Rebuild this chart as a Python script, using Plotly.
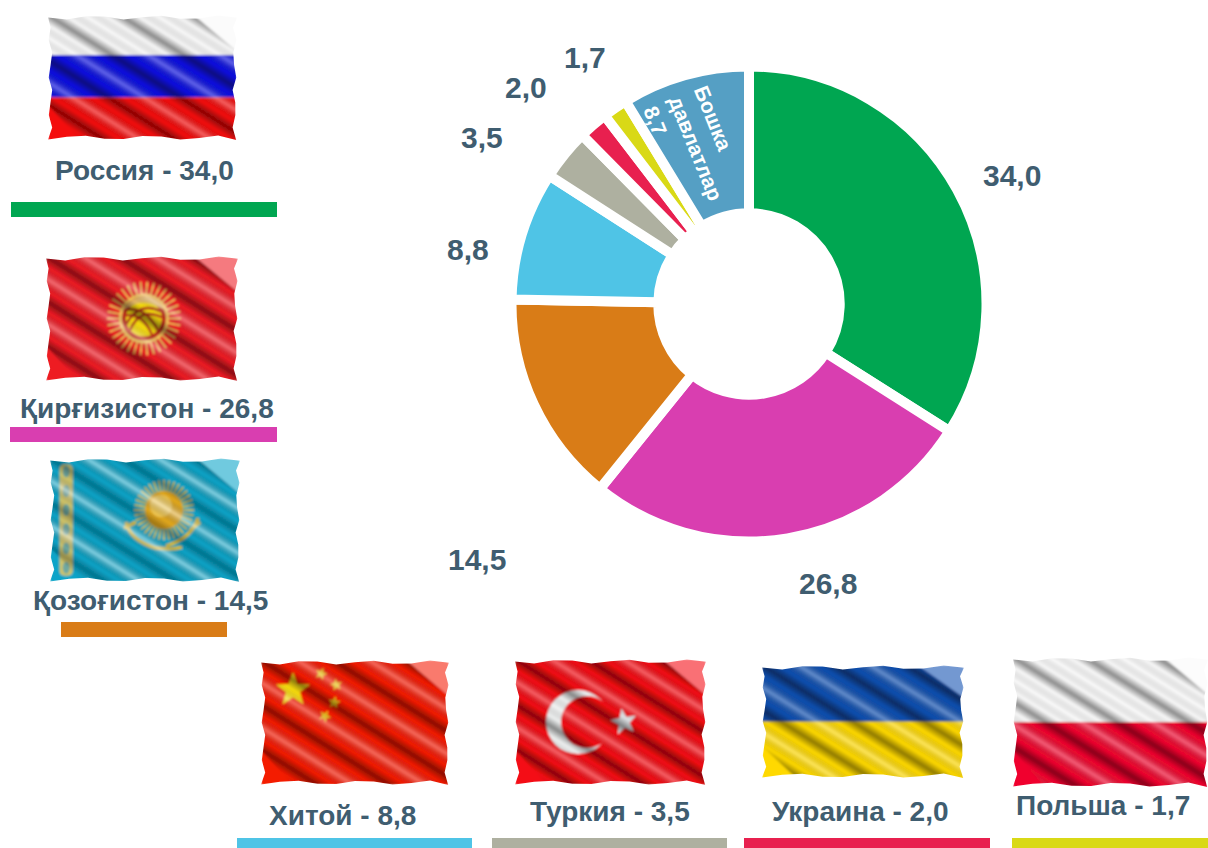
import base64, math
import plotly.graph_objects as go

W, H = 1208, 848

# ---- data ----
countries = ["Россия", "Қирғизистон", "Қозоғистон", "Хитой", "Туркия", "Украина", "Польша", "Бошка давлатлар"]
shares = [34.0, 26.8, 14.5, 8.8, 3.5, 2.0, 1.7, 8.7]
colors = ["#00a651", "#d93eb0", "#d97c17", "#4fc4e6", "#aeb0a0", "#e8204f", "#d9d916", "#559fc4"]

INK = "#3f5d70"
FONT = "Liberation Sans"


def fmt(v):
    return f"{v:.1f}".replace(".", ",")


# ---- flag pictures (inline SVG) ----
def star(cx, cy, r, rot=-90, inner=0.42):
    pts = []
    for i in range(10):
        rr = r if i % 2 == 0 else r * inner
        a = math.radians(rot + 36 * i)
        pts.append(f"{cx + rr * math.cos(a):.1f},{cy + rr * math.sin(a):.1f}")
    return " ".join(pts)


def wavy(w, h):
    n = 10
    p = []
    for i in range(n + 1):
        p.append((w * i / n, 2.5 + 2 * math.sin(i * 1.9)))
    for i in range(1, n + 1):
        p.append((w - 2.5 - 2 * math.sin(i * 2.3), h * i / n))
    for i in range(1, n + 1):
        p.append((w - w * i / n, h - 2.5 - 2 * math.sin(i * 1.7)))
    for i in range(1, n):
        p.append((2.5 + 2 * math.sin(i * 2.1), h - h * i / n))
    return " ".join(f"{x:.1f},{y:.1f}" for x, y in p)


def rays(cx, cy, r0, r1, n, col, width=1.8):
    out = ""
    for i in range(n):
        a = 2 * math.pi * i / n
        out += (f'<line x1="{cx + r0 * math.cos(a):.1f}" y1="{cy + r0 * math.sin(a):.1f}" '
                f'x2="{cx + r1 * math.cos(a):.1f}" y2="{cy + r1 * math.sin(a):.1f}" '
                f'stroke="{col}" stroke-width="{width}"/>')
    return out


def flag(kind, w, h):
    base, top = "", ""
    dark, light = 0.44, 0.36
    if kind == "ru":
        base = (f'<rect width="{w}" height="{h}" fill="#f8f8f8"/><rect y="{h * 0.32}" width="{w}" height="{h * 0.34}" fill="#0c10e0"/>'
                f'<rect y="{h * 0.66}" width="{w}" height="{h}" fill="#f40a0a"/>')
    elif kind == "pl":
        base = f'<rect width="{w}" height="{h}" fill="#fafafa"/><rect y="{h * 0.5}" width="{w}" height="{h}" fill="#f0062e"/>'
    elif kind == "ua":
        base = f'<rect width="{w}" height="{h}" fill="#0f4fb0"/><rect y="{h * 0.5}" width="{w}" height="{h}" fill="#ffd900"/>'
    elif kind == "kg":
        base = f'<rect width="{w}" height="{h}" fill="#ee1a24"/>'
        cx, cy = w * 0.51, h * 0.5
        top = (rays(cx, cy, 20, 37, 34, "#f6c65a") +
               f'<circle cx="{cx}" cy="{cy}" r="25" fill="#f6c65a"/>'
               f'<circle cx="{cx}" cy="{cy}" r="22" fill="#c0281c"/>'
               f'<circle cx="{cx}" cy="{cy}" r="18" fill="#f7dc10"/>'
               f'<path d="M{cx - 18} {cy + 6} Q{cx - 4} {cy - 18} {cx + 17} {cy - 7} M{cx - 14} {cy + 12} Q{cx - 4} {cy - 12} {cx + 18} {cy - 1} '
               f'M{cx + 14} {cy + 12} Q{cx + 2} {cy - 12} {cx - 17} {cy - 9} M{cx + 8} {cy + 16} Q{cx - 2} {cy - 6} {cx - 18} {cy - 3}" '
               f'stroke="#b52a18" stroke-width="2.4" fill="none"/>'
               f'<path d="M{cx - 20} {cy - 9} A22 22 0 0 1 {cx + 20} {cy - 9} L{cx + 10} {cy - 14} Q{cx} {cy - 18} {cx - 10} {cy - 14} Z" fill="#e4b868"/>')
    elif kind == "kz":
        base = f'<rect width="{w}" height="{h}" fill="#08a4c8"/>'
        light = 0.5
        dark = 0.3
        cx, cy = w * 0.6, h * 0.42
        orn = f'<rect x="{w * 0.05:.1f}" y="{h * 0.05:.1f}" width="{w * 0.07:.1f}" height="{h * 0.9:.1f}" rx="5" fill="#cfc46a"/>'
        for i in range(6):
            orn += f'<ellipse cx="{w * 0.085:.1f}" cy="{h * 0.11 + i * h * 0.155:.1f}" rx="3.5" ry="6" fill="#6fa8a0"/>'
        top = (orn + rays(cx, cy, 18, 30, 36, "#d8c040") +
               f'<circle cx="{cx}" cy="{cy}" r="19" fill="#e3a91f"/>'
               f'<circle cx="{cx - 3}" cy="{cy - 4}" r="11" fill="#f6d66a" opacity="0.7"/>'
               f'<path d="M{cx - 38} {cy + 12} Q{cx - 34} {cy + 30} {cx - 8} {cy + 38} Q{cx + 8} {cy + 40} {cx + 18} {cy + 37} '
               f'M{cx + 34} {cy + 8} Q{cx + 28} {cy + 28} {cx + 2} {cy + 36} M{cx - 40} {cy + 18} L{cx - 28} {cy + 12} M{cx + 36} {cy + 12} L{cx + 26} {cy + 20}" '
               f'stroke="#d8bd3a" stroke-width="3.5" fill="none"/>')
    elif kind == "cn":
        base = f'<rect width="{w}" height="{h}" fill="#f41a04"/>'
        top = (f'<polygon points="{star(w * 0.17, h * 0.24, 18)}" fill="#f8dc10"/>'
               + "".join(f'<polygon points="{star(w * a, h * b, 6.5, r)}" fill="#eec41a"/>'
                         for a, b, r in [(0.32, 0.11, -70), (0.4, 0.2, -100), (0.39, 0.34, -80), (0.34, 0.45, -60)]))
    elif kind == "tr":
        base = f'<rect width="{w}" height="{h}" fill="#f40a12"/>'
        cx, cy = w * 0.33, h * 0.5
        top = (f'<circle cx="{cx}" cy="{cy}" r="32" fill="#eef0f0"/>'
               f'<circle cx="{cx + 9}" cy="{cy}" r="26" fill="#f40a12"/>'
               f'<polygon points="{star(w * 0.57, cy, 14, -100)}" fill="#dfe3e6"/>')
    a = math.radians(32)
    period = 38
    gx, gy = -math.sin(a) * period, math.cos(a) * period
    svg = (f'<svg xmlns="http://www.w3.org/2000/svg" width="{w}" height="{h}" viewBox="0 0 {w} {h}">'
           f'<defs><linearGradient id="g" gradientUnits="userSpaceOnUse" x1="0" y1="0" x2="{gx:.2f}" y2="{gy:.2f}" spreadMethod="repeat">'
           f'<stop offset="0" stop-color="#000" stop-opacity="{dark}"/>'
           '<stop offset="0.22" stop-color="#000" stop-opacity="0"/>'
           f'<stop offset="0.5" stop-color="#fff" stop-opacity="{light}"/>'
           '<stop offset="0.78" stop-color="#000" stop-opacity="0"/>'
           f'<stop offset="1" stop-color="#000" stop-opacity="{dark}"/></linearGradient>'
           f'<clipPath id="c"><polygon points="{wavy(w, h)}"/></clipPath>'
           '<filter id="b" x="-5%" y="-5%" width="110%" height="110%"><feGaussianBlur stdDeviation="0.9"/></filter></defs>'
           f'<g clip-path="url(#c)"><g filter="url(#b)">{base}{top}'
           f'<polygon points="{w * 0.77},0 {w},0 {w},{h * 0.29}" fill="#fff" opacity="0.42"/>'
           f'<polygon points="0,0 {w * 0.77},0 {w},{h * 0.29} {w},{h} {w * 0.17},{h} 0,{h * 0.72}" fill="url(#g)"/>'
           '</g></g></svg>')
    return "data:image/svg+xml;base64," + base64.b64encode(svg.encode()).decode()


# ---- layout helpers (pixel -> paper) ----
def px(x):
    return x / W


def py(y):
    return 1 - y / H


# kind, x0, x1, y0, y1
flag_boxes = [("ru", 48, 237, 15, 140), ("kg", 46, 238, 256, 381), ("kz", 50, 240, 458, 582),
              ("cn", 261, 449, 660, 785), ("tr", 515, 706, 659, 785), ("ua", 762, 964, 665, 778),
              ("pl", 1013, 1208, 657, 787)]
# colour bars x0, x1, y0, y1
bar_boxes = [(11, 277, 202, 217), (10, 277, 427, 442), (61, 227, 622, 637), (237, 472, 838, 848),
             (492, 727, 838, 848), (744, 990, 838, 848), (1012, 1208, 838, 848)]
# legend text centre
legend_pos = [(144, 171), (147, 409), (150, 600), (342, 815), (610, 811), (861, 811), (1103, 805)]
# outer value labels centre
value_pos = [(1012, 175), (828, 583), (477, 559), (468, 249), (482, 137), (526, 88), (585, 57)]

CX, CY, R = 749, 304, 237.5

fig = go.Figure(go.Pie(
    labels=countries, values=shares, sort=False, direction="clockwise", rotation=0,
    hole=0.382, textinfo="none", hoverinfo="label+value", showlegend=False,
    marker=dict(colors=colors, line=dict(color="white", width=10)),
    domain=dict(x=[px(CX - R), px(CX + R)], y=[py(CY + R), py(CY - R)]),
))

images, shapes, ann = [], [], []
for kind, x0, x1, y0, y1 in flag_boxes:
    images.append(dict(source=flag(kind, x1 - x0, y1 - y0), xref="paper", yref="paper", x=px(x0), y=py(y0),
                       sizex=(x1 - x0) / W, sizey=(y1 - y0) / H, xanchor="left", yanchor="top",
                       sizing="stretch", layer="below"))
for (x0, x1, y0, y1), c in zip(bar_boxes, colors):
    shapes.append(dict(type="rect", xref="paper", yref="paper", x0=px(x0), x1=px(x1), y0=py(y1), y1=py(y0),
                       fillcolor=c, line_width=0))


def note(x, y, text, size, color=INK, angle=0, align="center"):
    ann.append(dict(xref="paper", yref="paper", x=px(x), y=py(y), text=f"<b>{text}</b>", showarrow=False,
                    xanchor="center", yanchor="middle", textangle=angle, align=align,
                    font=dict(family=FONT, size=size, color=color)))


for (x, y), name, v in zip(legend_pos, countries, shares):
    note(x, y, f"{name} - {fmt(v)}", 28)
for (x, y), v in zip(value_pos, shares):
    note(x, y, fmt(v), 30)
name_a, name_b = countries[7].split()
note(696, 149, f"{name_a}<br>{name_b}<br>{fmt(shares[7])}", 21, "white", 68, "left")

fig.update_layout(width=W, height=H, margin=dict(l=0, r=0, t=0, b=0), paper_bgcolor="white",
                  images=images, shapes=shapes, annotations=ann)
fig.write_html("out.html", config={"displayModeBar": False},
               post_script="document.body.style.margin='0';document.body.style.overflow='hidden';")
